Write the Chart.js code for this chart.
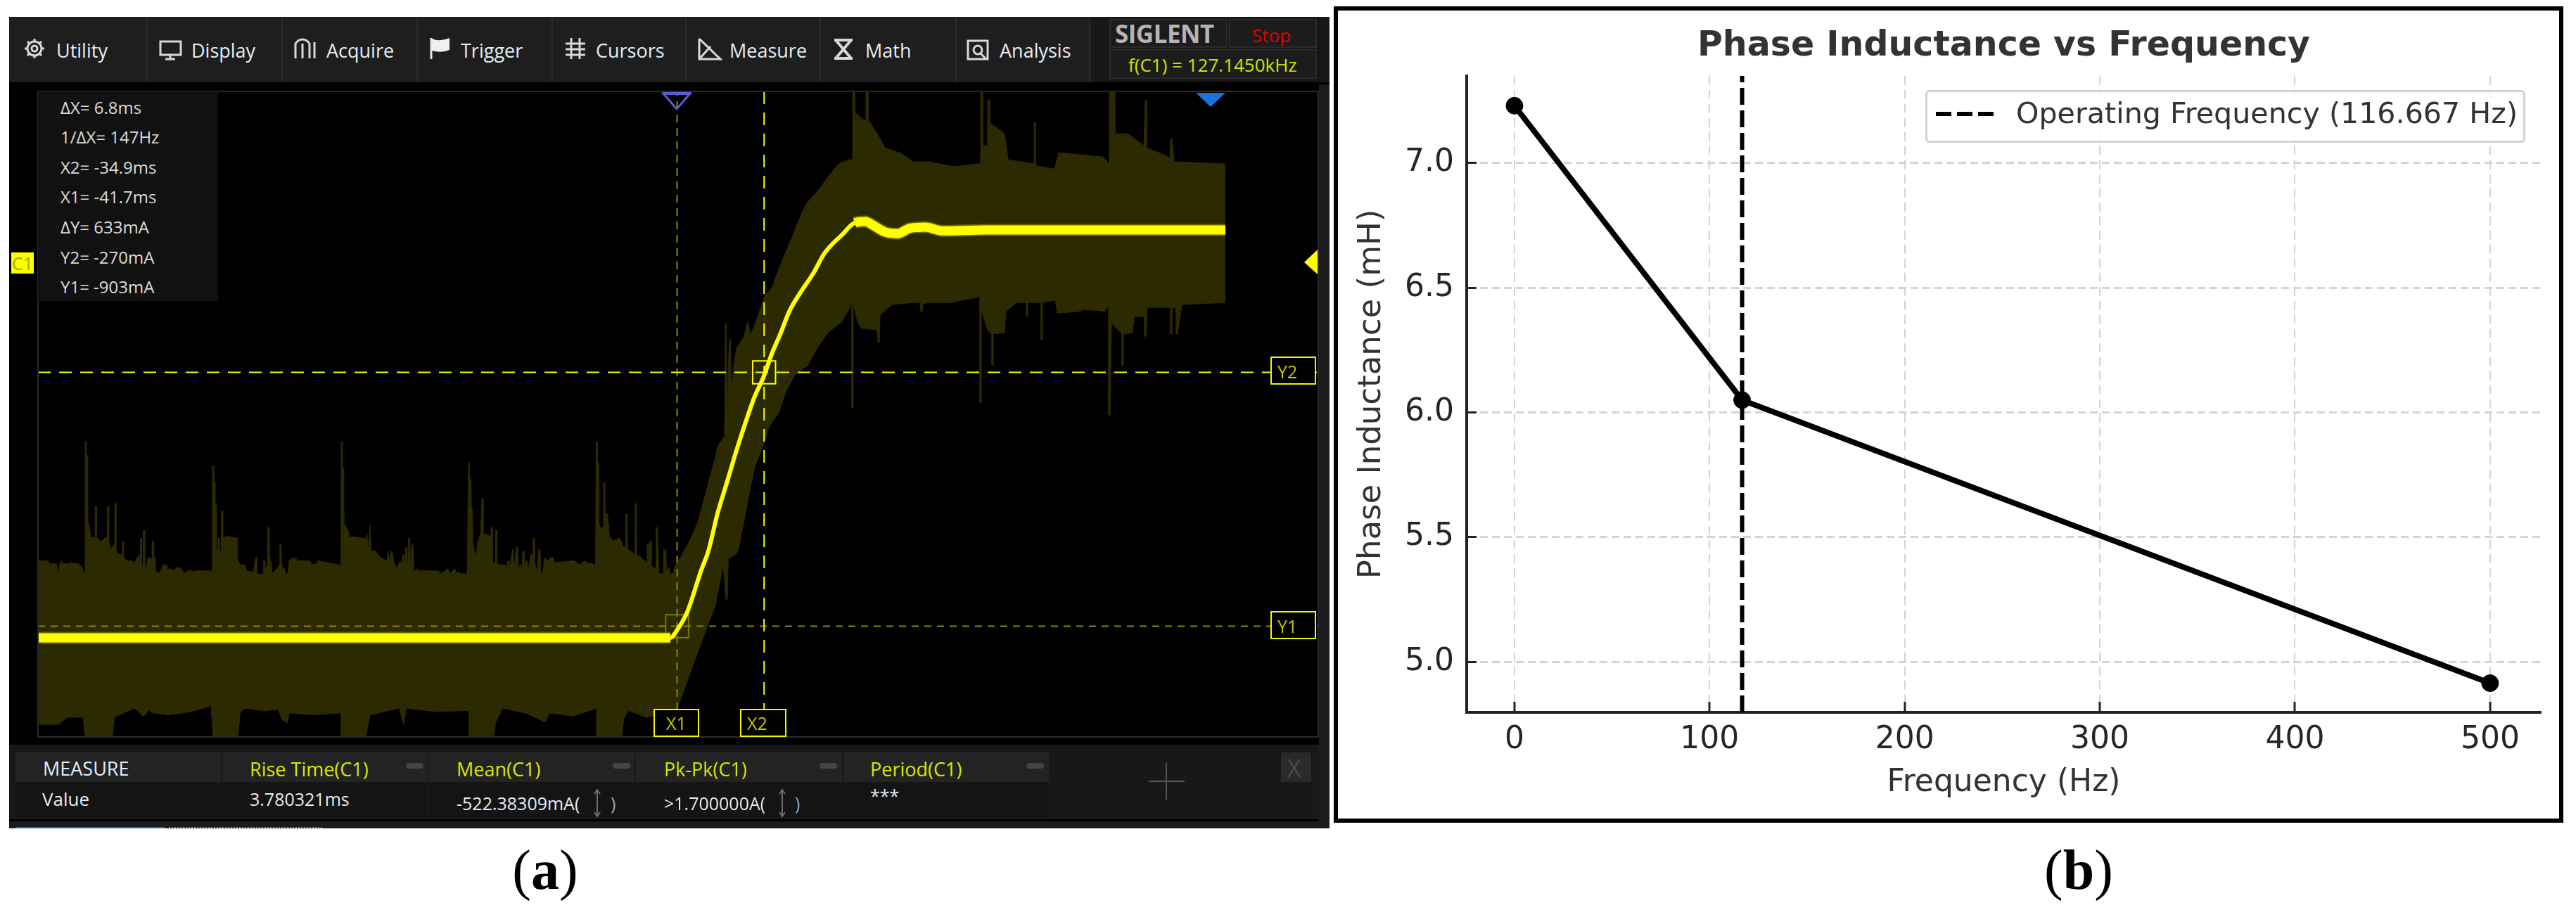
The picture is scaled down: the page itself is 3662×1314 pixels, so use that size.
<!DOCTYPE html>
<html><head><meta charset="utf-8">
<script src="https://cdn.jsdelivr.net/npm/chart.js@4"></script>
<style>
html,body{margin:0;padding:0;background:#fff;width:3662px;height:1314px;overflow:hidden}
#page{position:absolute;left:0;top:0;width:3662px;height:1314px}
.b{position:absolute;box-sizing:border-box}
.t{position:absolute;white-space:pre;transform:translateY(-50%);font-family:"Open Sans",sans-serif;line-height:1}
canvas{position:absolute}
</style></head><body><div id="page"></div>
<script>
/* ---------- Panel (a): oscilloscope capture, time in ms, current in mA ---------- */
const scopeTimeMin = -91.65, scopeTimeMax = 8.41, scopeCurrentMin = -1179, scopeCurrentMax = 430.5;
const cursorX1 = -41.7, cursorX2 = -34.9, cursorY1 = -903, cursorY2 = -270;

const traceMs = [-91.65,-70,-50,-42.22,-41.73,-40.9,-39.8,-39.25,-38.54,-37.82,-37.05,-36.34,-35.62,-34.96,-34.3,-33.59,-32.93,-32.1,-31,-30.18,-28.75,-27.82,-26.99,-26.39,-25.45,-24.46,-23.53,-22.27,-21,-17.54,-11.21,1.15];
const traceMa = [-932,-932,-932,-932,-914,-867,-762,-715,-622,-546,-464,-394,-329,-283,-224,-171,-118,-73,-20,27,75,103,106,97,80,76,89,92,83,85,85,85];

const envelopeTopMs = [-91.68,-90.85,-90.76,-90.21,-90.03,-89.94,-89.84,-89.75,-89.2,-89.11,-89.02,-88.47,-88.2,-88.01,
-87.97,-87.88,-87.87,-87.77,-87.76,-87.65,-87.54,-87.19,-87.19,-87.08,-87.06,-86.69,-86.45,-86.22,-86.22,-86.12,-86.11,-86,-85.65,-85.65,-85.54,-85.54,-85.3,-85.08,-85.06,-84.95,-84.95,-84.71,-84.26,-84.17,-83.89,-83.65,-83.65,-83.56,-83.54,-83.43,-83.43,-83.32,-83.3,-83.15,-83.06,-82.92,-82.88,-82.73,-82.73,-82.62,-82.6,-82.49,-82.48,-82.24,-82.06,-81.87,-81.6,-81.51,-81.41,-80.95,-80.86,-80.5,-80.22,-79.99,-79.58,-79.49,-79.4,-78.12,-78.03,
-78.01,-77.91,-77.9,-77.8,-77.79,-77.69,-77.68,-77.57,-77.57,-77.46,-77.45,-77.35,-77.33,-77.22,-77.2,-76.83,-76.06,-76.06,-75.83,-75.46,-75.37,-74.82,-74.63,-74.54,-74.53,-74.05,-74.03,-73.94,-73.9,-73.72,-73.7,-73.59,-73.57,-73.44,-73.35,-72.95,-72.77,-72.75,-72.64,-72.62,-72.51,-72.4,-72.29,-72.11,-72.03,-71.79,-71.52,-71.34,-70.42,-70.27,-69.87,-69.78,-68.59,-68.07,-67.98,
-67.95,-67.85,-67.84,-67.74,-67.73,-67.4,-67.31,-66.85,-66.02,-65.94,-65.84,-65.7,-65.6,-65.3,-64.93,-64.38,-64.29,-64.2,-64.07,-63.98,-63.83,-63.59,-63.35,-63.28,-63.13,-63.04,-63,-62.91,-62.8,-62.77,-62.68,-62.58,-62.55,-62.44,-62.35,-62.27,-62.09,-61.91,-60.35,-60.17,-59.8,-59.62,-59.43,-59.07,-58.97,-58.79,-58.7,-58.11,
-58,-57.91,-57.89,-57.8,-57.78,-57.69,-57.67,-57.42,-57.27,-57.05,-56.96,-56.87,-56.85,-56.59,-56.26,-56.24,-56.13,-56.11,-55.91,-55.9,-55.79,-55.77,-55.13,-55.04,-54.94,-54.85,-54.82,-54.58,-54.49,-54.45,-54.27,-54.16,-54.12,-53.99,-53.9,-53.86,-53.75,-53.66,-53.62,-53.51,-53.42,-53.39,-53.11,-52.98,-52.96,-52.85,-52.84,-52.65,-52.51,-52.4,-52.36,-52.2,-52.01,-51.83,-51.55,-51.37,-51.28,-49.9,-49.72,-49.35,-48.9,-48.71,-48.11,-48.07,
-48.03,-47.94,-47.92,-47.83,-47.81,-47.7,-47.48,-47.45,-47.34,-47.32,-47.15,-47.05,-46.97,-46.84,-46.75,-46.15,-45.96,-45.72,-45.72,-45.61,-45.6,-45.32,-45.01,-44.99,-44.88,-44.86,-44.5,-44.08,-44.04,-43.95,-43.93,-43.82,-43.73,-43.71,-43.53,-43.34,-43.34,-43.23,-43.12,-42.76,-42.76,-42.57,-42.54,-42.43,-42.32,-42.21,-42.02,-41.84,
-41.47,-40.74,-40.1,-39.64,-39.2,-38.72,-38.54,-37.99,-37.93,-37.85,-37.82,-37.62,-37.51,-37.49,-37.22,-37.05,-36.5,-36.17,-35.95,-35.4,-34.85,-34.3,-33.86,-32.05,-31.61,-30.51,-29.85,-29.08,-28.26,-27.98,-27.98,-27.82,-27.82,-27.16,-26.94,-26.94,-26.77,-26.77,-26.06,-25.45,-24.19,-23.25,-21.99,-20.07,-18.2,-17.98,-17.98,-17.81,-17.81,-17.43,-17.43,-17.26,-17.26,-16.11,-15.83,-13.8,-13.8,-13.69,-13.69,-12.2,-11.87,-8.41,-7.97,-7.92,-7.53,-7.48,-6.49,-5.22,-5.11,-5,-5,-3.68,-3.19,-3.13,-3.02,-2.86,1.15];
const envelopeTopMa = [-740,-740,-747,-747,-771,-747,-740,-747,-747,-740,-747,-747,-757,-774,
-443,-443,-477,-477,-639,-651,-680,-683,-604,-604,-683,-691,-683,-683,-604,-604,-691,-712,-698,-597,-597,-716,-724,-724,-691,-691,-731,-740,-740,-747,-731,-724,-683,-683,-750,-750,-664,-664,-756,-756,-731,-731,-740,-731,-691,-691,-731,-733,-765,-772,-765,-750,-750,-765,-759,-765,-757,-757,-772,-765,-765,-772,-765,-765,-774,
-503,-503,-544,-544,-597,-597,-712,-712,-683,-683,-715,-715,-616,-616,-683,-679,-683,-740,-750,-750,-765,-768,-731,-731,-772,-774,-740,-740,-765,-750,-657,-657,-731,-741,-772,-759,-750,-698,-698,-747,-759,-759,-772,-772,-740,-733,-733,-740,-740,-750,-747,-740,-747,-750,-771,
-443,-443,-510,-510,-648,-665,-681,-680,-685,-672,-716,-650,-716,-715,-730,-740,-716,-740,-716,-716,-744,-759,-740,-756,-724,-724,-765,-706,-706,-772,-683,-683,-772,-698,-698,-772,-759,-765,-765,-772,-765,-759,-772,-759,-772,-766,-772,-772,
-496,-496,-537,-537,-610,-610,-698,-730,-691,-672,-585,-585,-672,-674,-679,-657,-657,-745,-745,-664,-664,-749,-750,-759,-740,-740,-771,-712,-712,-772,-705,-705,-772,-750,-750,-772,-716,-716,-772,-740,-740,-772,-724,-724,-683,-683,-740,-772,-712,-712,-772,-768,-731,-740,-731,-731,-745,-740,-740,-749,-740,-745,-749,-772,
-443,-443,-496,-496,-648,-657,-657,-544,-544,-623,-623,-648,-689,-680,-691,-683,-703,-706,-623,-623,-709,-716,-724,-597,-597,-724,-731,-744,-698,-698,-743,-691,-691,-750,-759,-757,-657,-657,-772,-772,-712,-715,-772,-757,-757,-772,-771,-750,
-733,-692,-645,-592,-539,-484,-455,-429,-148,-148,-359,-188,-188,-311,-241,-210,-183,-143,-178,-131,-78,-60,-22,120,150,190,220,250,260,260,429,429,378,360,360,429,429,360,325,290,276,255,255,243,250,250,429,429,295,295,409,409,352,325,260,250,352,352,245,237,278,267,250,429,429,325,325,295,408,408,290,273,264,313,313,255,250];

const envelopeBottomMs = [-91.68,-90.05,-89.35,-88.12,-87.95,-85.84,-85.67,-84.9,-84.09,-83.4,-83,-82.69,-81.5,-80.24,-79,-78.13,-77.96,-76.03,-75.85,-75.5,-74,-72.87,-72.6,-72.17,-71.99,-70,-67.96,-67.96,-66.04,-65.69,-63.41,-63.06,-62.88,-60.5,-57.97,-57.97,-56.04,-55.87,-55.34,-53.5,-52.01,-51.66,-49.8,-47.98,-47.98,-46.05,-45.88,-45.53,-44.12,-42.02,-41.67,
-40.74,-39.36,-38.7,-38.1,-37.88,-37.77,-37.71,-37.05,-36.89,-36.17,-36.06,-35.62,-34.96,-34.52,-33.75,-33.2,-32.49,-31.5,-30.68,-29.91,-28.81,-28.26,-28.09,-28.04,-28.04,-27.93,-27.93,-27.6,-27.32,-26.06,-26,-25.89,-25.84,-24.9,-23.31,-22.7,-22.65,-22.54,-22.48,-22.1,-20.4,-18.14,-18.03,-18.03,-17.92,-17.92,-17.43,-17.1,-17.1,-16.99,-16.99,-16.11,-16,-15.17,-14.4,-14.4,-14.29,-14.29,-13.25,-13.25,-13.14,-13.14,-12.15,-11.98,-10.28,-9.84,-8.25,-7.97,-7.97,-7.86,-7.75,-6.93,-6.93,-6.82,-6.82,-6.1,-5.99,-5.44,-5.17,-5.17,-5.06,-4.95,-3.13,-3.13,-3.02,-3.02,-2.69,-2.69,-2.58,-2.25,1.15];
const envelopeBottomMa = [-1148,-1148,-1130,-1130,-1180,-1180,-1130,-1118,-1107,-1128,-1112,-1119,-1124,-1119,-1110,-1101,-1180,-1180,-1119,-1107,-1114,-1110,-1135,-1145,-1119,-1124,-1119,-1180,-1180,-1124,-1107,-1148,-1107,-1116,-1113,-1180,-1180,-1142,-1107,-1120,-1142,-1119,-1127,-1107,-1180,-1180,-1136,-1113,-1130,-1119,-1107,
-1025,-906,-850,-750,-837,-837,-736,-722,-709,-592,-569,-504,-452,-406,-371,-318,-276,-253,-206,-171,-143,-113,-96,-96,-359,-359,-101,-143,-160,-164,-196,-196,-127,-101,-96,-96,-118,-118,-99,-96,-96,-82,-82,-346,-346,-113,-166,-174,-253,-253,-174,-171,-118,-96,-96,-131,-131,-96,-96,-188,-188,-96,-90,-122,-118,-113,-118,-101,-376,-376,-148,-174,-253,-253,-174,-171,-131,-131,-131,-180,-180,-108,-108,-174,-174,-108,-108,-174,-174,-101,-96];

/* ---------- Panel (b): phase inductance ---------- */
const frequencyHz = [0, 116.667, 500];
const inductanceMh = [7.23, 6.05, 4.915];
const operatingFrequencyHz = 116.667;
const xTickValues = [0,100,200,300,400,500];
const yTickValues = [5.0,5.5,6.0,6.5,7.0];
const freqAxisMin = -24.5, freqAxisMax = 526, indAxisMin = 4.798, indAxisMax = 7.35;

const measureHeads = ["Rise Time(C1)","Mean(C1)","Pk-Pk(C1)","Period(C1)"];
const toolbarLabels = ["Utility","Display","Acquire","Trigger","Cursors","Measure","Math","Analysis"];
const cursorReadout = ["\u0394X= 6.8ms","1/\u0394X= 147Hz","X2= -34.9ms","X1= -41.7ms","\u0394Y= 633mA","Y2= -270mA","Y1= -903mA"];

/* ---------- page chrome ---------- */
const page = document.getElementById('page');
function box(x,y,w,h,bg,extra){const d=document.createElement('div');d.className='b';d.style.cssText=`left:${x}px;top:${y}px;width:${w}px;height:${h}px;background:${bg||'transparent'};${extra||''}`;page.appendChild(d);return d;}
function text(x,cy,s,size,color,extra){const d=document.createElement('div');d.className='t';d.textContent=s;d.style.cssText=`left:${x}px;top:${cy}px;font-size:${size}px;color:${color};${extra||''}`;page.appendChild(d);return d;}

box(13,24,1877,1154,'#000');
box(13,24,1877,93,'#1e1e1e');
box(1548,24,342,93,'#171717');
[208,400,592,784,974,1165,1358,1548].forEach(x=>box(x,24,2,93,'#2a2a2a'));
const toolbarX=[80,272,464,655,847,1037,1230,1421];
toolbarLabels.forEach((s,i)=>text(toolbarX[i],71,s,27,'#e6edf5'));
box(1577,27,168,41,'#1c1c1c','border:2px solid #2a2a2a');
box(1747,27,125,41,'#1c1c1c','border:2px solid #2a2a2a');
box(1577,70,295,42,'#1c1c1c','border:2px solid #2a2a2a');
text(1585,47,'SIGLENT',35,'#b4b4b4','font-weight:700;letter-spacing:-.5px');
text(1780,50,'Stop',26,'#e00000');
text(1604,92,'f(C1) = 127.1450kHz',26,'#cfe400');

/* scope canvas host */
const scopeCanvas=document.createElement('canvas');
scopeCanvas.width=1820;scopeCanvas.height=918;
scopeCanvas.style.cssText='left:54px;top:130px;width:1820px;height:918px';
page.appendChild(scopeCanvas);

box(53,129,1822,920,'transparent','border:2px solid #2a2a2a');
box(1875,120,15,1048,'#1b1b1b');
box(54,130,256,298,'#111');
const infoY=[153,195,238,280,323,366,408];
cursorReadout.forEach((s,i)=>text(86,infoY[i],s,24,'#dcdcdc'));

box(16,359,32,30,'#ffff00');
text(17,374,'C1',25,'#a8a800');

/* cursor tags */
[['X1',929,1008,65,40,947,1028],['X2',1052,1008,66,40,1062,1028],['Y2',1806,507,65,40,1816,528],['Y1',1806,869,65,40,1816,890]].forEach(a=>{
  box(a[1],a[2],a[3],a[4],'#000','border:2px solid #f5f500');
  text(a[5],a[6],a[0],25,'#c8c400');
});

/* measure bar */
box(13,1059,1862,106,'#181818');
box(22,1070,1469,42,'#232323');
box(22,1112,1469,50,'#141414');
[314,608,902,1197,1491].forEach(x=>box(x,1070,2,92,'#181818'));
text(61,1092,'MEASURE',27,'#e6edf5');
text(60,1136,'Value',26,'#e6edf5');
const headX=[355,649,944,1237];
measureHeads.forEach((s,i)=>text(headX[i],1093,s,27,'#d7e800'));
[577,871,1165,1459].forEach(x=>box(x,1085,25,8,'#454545','border-radius:4px'));
text(355,1136,'3.780321ms',25,'#e6edf5');
text(649,1142,'-522.38309mA(',25,'#e6edf5');
text(868,1142,')',25,'#8fa8c8');
text(944,1142,'>1.700000A(',25,'#e6edf5');
text(1130,1142,')',25,'#8fa8c8');
text(1237,1131,'***',25,'#e6edf5');
box(1821,1070,43,42,'#2a2a2a');
text(1830,1092,'X',34,'#4a4a4a');
box(13,1168,1877,10,'#1b1b1b');
box(22,1176,213,2,'#1670d0');
box(240,1176,218,2,'transparent','border-top:2px dotted #888');

/* icons and triangles */
const svgNS='http://www.w3.org/2000/svg';
const ov=document.createElementNS(svgNS,'svg');
ov.setAttribute('width','3662');ov.setAttribute('height','1314');
ov.style.cssText='position:absolute;left:0;top:0;pointer-events:none';
ov.innerHTML=`
<g fill="none" stroke="#d8d8d8" stroke-width="3">
 <circle cx="49" cy="69" r="10"/><circle cx="49" cy="69" r="4"/>
 <path d="M49 55v5M49 78v5M35 69h5M58 69h5M39 59l4 4M55 75l4 4M59 59l-4 4M43 75l-4 4"/>
 <rect x="228" y="59" width="29" height="19" /><path d="M242 78v5M235 84h14"/>
 <path d="M420 83V62q4-6 10-6t10 6v21M430 83V62M447 83V60"/>
 <path d="M804 62h28M804 70h28M804 78h28M812 54v30M824 54v30"/>
 <path d="M994 55v29h30l-30-29M994 84l16-18"/>
 <path d="M1186 57l26 0M1186 83l26 0M1188 57l22 26M1210 57l-22 26" stroke-width="4"/>
 <rect x="1376" y="58" width="28" height="26"/><circle cx="1390" cy="71" r="6"/><path d="M1394 76l7 7"/>
</g>
<path d="M613 54v30" stroke="#e8e8e8" stroke-width="3"/><path d="M614 55q12 5 25-1v17q-12 5-25 1z" fill="#f0f0f0"/>
<path d="M943 133h38l-19 22z" fill="none" stroke="#5a5ad8" stroke-width="3"/><rect x="942" y="131" width="40" height="4" fill="#5a5ad8"/>
<path d="M1700 132h42l-21 20z" fill="#1874d8"/>
<path d="M1873 355v35l-19-17z" fill="#ffff00"/>
<path d="M1633 1111h51M1658 1085v52" stroke="#555" stroke-width="2"/>
<g fill="none" stroke="#6d6d6d" stroke-width="2"><path d="M849 1123v38M845 1129l4-6 4 6M845 1155l4 6 4-6"/><path d="M1112 1123v38M1108 1129l4-6 4 6M1108 1155l4 6 4-6"/></g>`;
page.appendChild(ov);

/* panel labels */
function serifLabel(cx,letter){const d=text(cx,1237,'',80,'#000','font-family:"Liberation Serif",serif;transform:translate(-50%,-50%)');d.innerHTML='('+'<b>'+letter+'</b>'+')';}
serifLabel(775,'a');serifLabel(2955,'b');

/* panel (b) frame, canvas, legend */
box(1896,9,1748,1161,'#fff','border:6px solid #000');
const indCanvas=document.createElement('canvas');
indCanvas.width=1736;indCanvas.height=1149;
indCanvas.style.cssText='left:1902px;top:15px;width:1736px;height:1149px';
page.appendChild(indCanvas);

box(2737,128,853,75,'rgba(255,255,255,.8)','border:3px solid #d2d2d2;border-radius:6px');
text(2866,162,`Operating Frequency (${operatingFrequencyHz} Hz)`,41.2,'#333','font-family:"DejaVu Sans",sans-serif');
box(2752,159,83,6,'repeating-linear-gradient(90deg,#000 0 22px,transparent 22px 30px)');

/* ---------- charts ---------- */
function zip(xs,ys){return xs.map((x,i)=>({x,y:ys[i]}));}
const dim='#8f8a00', bright='#ffff00', envelope='#2c2a00';
function cursorV(x,color,dash,o){return {type:'line',data:[{x,y:scopeCurrentMin},{x,y:scopeCurrentMax}],borderColor:color,borderWidth:2,borderDash:dash,pointRadius:0,fill:false,order:o};}
function cursorH(y,color,dash,o){return {type:'line',data:[{x:scopeTimeMin,y},{x:scopeTimeMax,y}],borderColor:color,borderWidth:2,borderDash:dash,pointRadius:0,fill:false,order:o};}
function marker(x,y,color,o){return {type:'line',data:[{x,y}],showLine:false,pointStyle:'rect',pointRadius:23,pointBackgroundColor:'transparent',pointBorderColor:color,pointBorderWidth:2,order:o};}

function traceWidth(t){ if(t<-42.3||t>-28) return 13; return 6; }
new Chart(scopeCanvas,{
  type:'line',
  data:{datasets:[
    {label:'C1',data:zip(traceMs,traceMa),borderColor:bright,pointRadius:0,borderWidth:13,fill:false,order:0,borderCapStyle:'butt',cubicInterpolationMode:'monotone',
     segment:{borderWidth:c=>traceWidth(c.p0.parsed.x)}},
    {label:'C1 fringe',data:zip(traceMs,traceMa),borderColor:'#6a6600',pointRadius:0,borderWidth:17,fill:false,order:2,cubicInterpolationMode:'monotone',
     segment:{borderColor:c=>traceWidth(c.p0.parsed.x)===6?'rgba(0,0,0,0)':'#6a6600'}},
    cursorV(cursorX2,bright,[18,12],1),
    cursorH(cursorY2,bright,[18,12],1),
    cursorV(cursorX1,dim,[11,8],1),
    cursorH(cursorY1,dim,[10,8],1),
    marker(cursorX2,cursorY2,bright,1),
    marker(cursorX1,cursorY1,'#7c7800',1),
    {label:'envelope top',data:zip(envelopeTopMs,envelopeTopMa),borderColor:envelope,borderWidth:1,pointRadius:0,fill:'+1',backgroundColor:envelope,order:5},
    {label:'envelope bottom',data:zip(envelopeBottomMs,envelopeBottomMa),borderColor:envelope,borderWidth:1,pointRadius:0,fill:false,order:6}
  ]},
  options:{responsive:false,animation:false,devicePixelRatio:1,
    layout:{padding:0,autoPadding:false},
    plugins:{legend:{display:false},tooltip:{enabled:false},title:{display:false}},
    scales:{
      x:{type:'linear',display:false,min:scopeTimeMin,max:scopeTimeMax},
      y:{type:'linear',display:false,min:scopeCurrentMin,max:scopeCurrentMax}
    }}
});

const axisFont={family:'"DejaVu Sans",sans-serif',size:44};
new Chart(indCanvas,{
  type:'line',
  data:{datasets:[
    {label:'Phase Inductance',data:zip(frequencyHz,inductanceMh),borderColor:'#000',backgroundColor:'#000',borderWidth:8,pointRadius:12,pointBorderWidth:1,pointBackgroundColor:'#000',pointBorderColor:'#000',fill:false,tension:0,clip:false},
    {label:`Operating Frequency (${operatingFrequencyHz} Hz)`,data:[{x:operatingFrequencyHz,y:indAxisMin},{x:operatingFrequencyHz,y:indAxisMax}],borderColor:'#000',borderWidth:6,borderDash:[24,8],pointRadius:0,fill:false}
  ]},
  options:{responsive:false,animation:false,devicePixelRatio:1,
    layout:{padding:{right:26},autoPadding:false},
    plugins:{legend:{display:false},tooltip:{enabled:false},
      title:{display:true,fullSize:false,text:'Phase Inductance vs Frequency',color:'#333',font:{family:'"DejaVu Sans",sans-serif',size:49,weight:'bold',lineHeight:1.2},padding:{top:22,bottom:12}}},
    scales:{
      x:{type:'linear',min:freqAxisMin,max:freqAxisMax,
        afterBuildTicks:s=>{s.ticks=xTickValues.map(v=>({value:v}));},
        afterFit:s=>{s.height=151;},
        ticks:{color:'#262626',font:axisFont,padding:28,maxRotation:0,callback:v=>String(v)},
        grid:{color:'#d4d4d4',lineWidth:2,tickLength:-15,tickColor:'#222',tickWidth:3},
        border:{display:true,color:'#222',width:4,dash:[13,7]},
        title:{display:true,text:'Frequency (Hz)',color:'#333',font:{family:'"DejaVu Sans",sans-serif',size:44},padding:{top:0,bottom:24}}},
      y:{type:'linear',min:indAxisMin,max:indAxisMax,
        afterBuildTicks:s=>{s.ticks=yTickValues.map(v=>({value:v}));},
        afterFit:s=>{s.width=183;},
        ticks:{color:'#262626',font:axisFont,padding:32,callback:v=>Number(v).toFixed(1)},
        grid:{color:'#d4d4d4',lineWidth:3,tickLength:-14,tickColor:'#222',tickWidth:3},
        border:{display:true,color:'#222',width:4,dash:[11,6]},
        title:{display:true,text:'Phase Inductance (mH)',color:'#333',font:{family:'"DejaVu Sans",sans-serif',size:45},padding:{top:21,bottom:0}}}
    }}
});
</script></body></html>
